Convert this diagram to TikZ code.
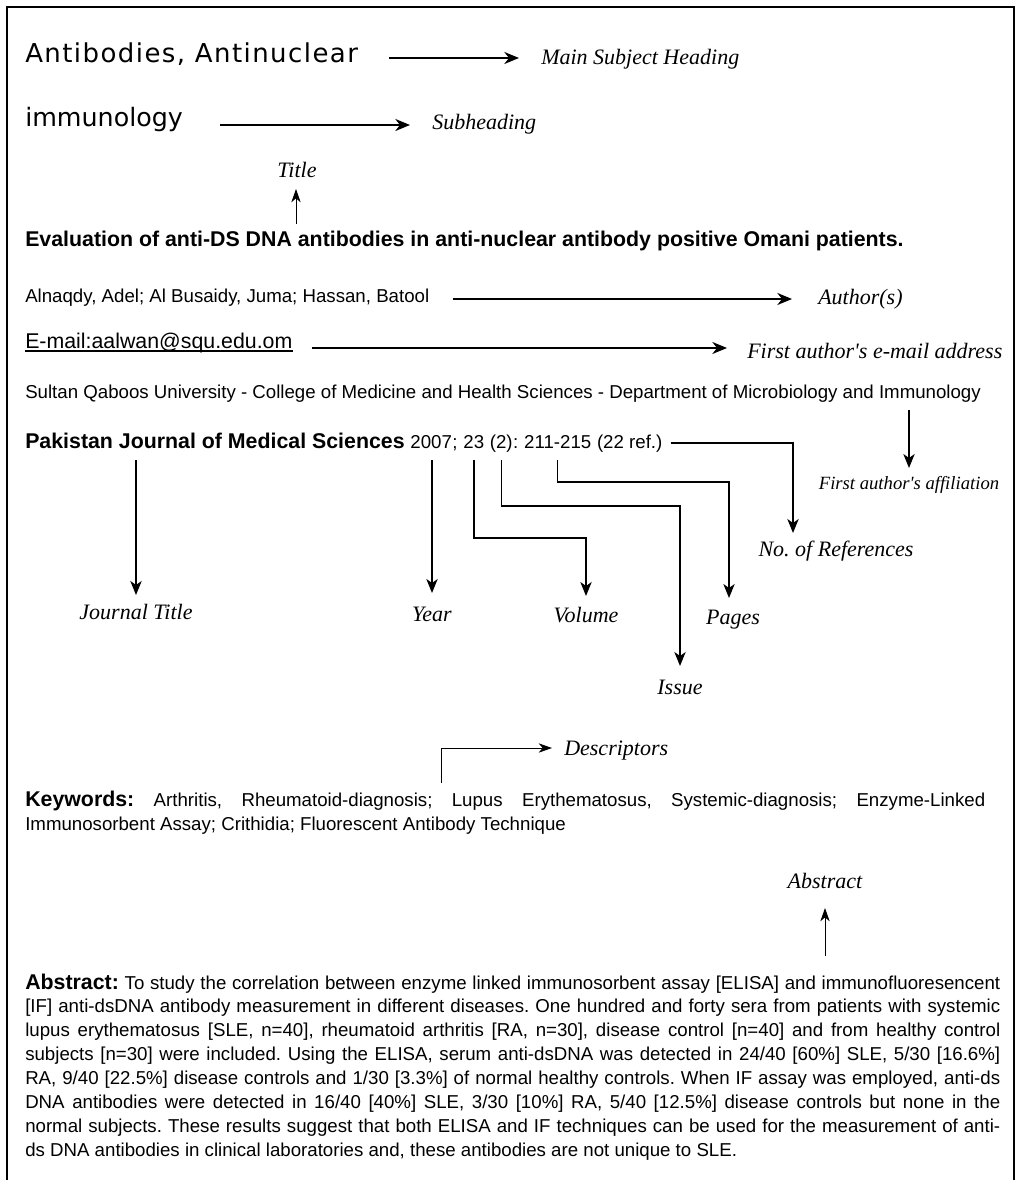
\documentclass[tikz,border=0pt]{standalone}
\usepackage{fontspec}
\setmainfont{Liberation Sans}
\newfontfamily\lblfont{Liberation Serif}
\newfontfamily\headfontA[LetterSpace=5.5]{DejaVu Sans}
\newfontfamily\headfontB{DejaVu Sans}
\usetikzlibrary{arrows.meta,calc}
\frenchspacing
\tikzset{
  lab/.style={font=\lblfont\itshape\fontsize{16.5}{19}\selectfont, anchor=base west, inner sep=0pt},
  labc/.style={lab, anchor=base},
  bodyt/.style={font=\fontsize{14}{17}\selectfont, anchor=base west, inner sep=0pt},
  boldt/.style={font=\bfseries\fontsize{16}{19}\selectfont, anchor=base west, inner sep=0pt},
  bigarr/.style={line width=1.5pt, -{Stealth[length=11pt,width=9pt,inset=3.5pt]}},
  conn/.style={line width=1.1pt, -{Stealth[length=10.5pt,width=8.5pt,inset=3pt]}},
  thinarr/.style={line width=0.75pt, -{Stealth[length=10pt,width=7pt,inset=3pt]}},
}
\begin{document}
\frenchspacing
\begin{tikzpicture}[x=0.75pt,y=-0.75pt]
\useasboundingbox (0,0) rectangle (1018,1180);
\draw[line width=1.1pt] (7,1182) -- (7,7) -- (1014,7) -- (1014,1182);

% headings
\node[anchor=base west, inner sep=0pt, font=\headfontA\fontsize{19.5}{23}\selectfont] (msh) at (25,63) {Antibodies, Antinuclear};
\node[lab] (mshL) at (541,65) {Main Subject Heading};
\draw[bigarr] ($(msh.base east)+(31,-5)$) coordinate (t1) -- ($(t1 -| mshL.base west)+(-22,0)$);

\node[anchor=base west, inner sep=0pt, font=\headfontB\fontsize{19}{23}\selectfont] (sub) at (25,127) {immunology};
\node[lab] (subL) at (432,130) {Subheading};
\draw[bigarr] ($(sub.base east)+(37,-2)$) coordinate (t2) -- ($(t2 -| subL.base west)+(-22,0)$);

% title
\node[labc] (ttlL) at (297,178) {Title};
\node[boldt] (ttl) at (25,247) {Evaluation of anti-DS DNA antibodies in anti-nuclear antibody positive Omani patients.};
\draw[thinarr] ($(ttlL.base |- ttl.base)+(-1,-23)$) -- ($(ttlL.base)+(-1,11)$);

% authors
\node[bodyt] (auth) at (25,303) {Alnaqdy, Adel; Al Busaidy, Juma; Hassan, Batool};
\node[lab] (authL) at (818,305) {Author(s)};
\draw[bigarr] ($(auth.base east)+(23,-4)$) coordinate (t3) -- ($(t3 -| authL.base west)+(-26,0)$);

% e-mail
\node[anchor=base west, inner sep=0pt, font=\fontsize{16}{19}\selectfont] (email) at (25,348) {E-mail:aalwan@squ.edu.om};
\draw[line width=1pt] ($(email.base west)+(0,3)$) -- ($(email.base east)+(0,3)$);
\node[lab] (emailL) at (747,358) {First author\textquotesingle s e-mail address};
\draw[bigarr] ($(email.base east)+(19,0)$) coordinate (t4) -- ($(t4 -| emailL.base west)+(-20,0)$);

% affiliation
\node[bodyt] (aff) at (25,398) {Sultan Qaboos University - College of Medicine and Health Sciences - Department of Microbiology and Immunology};
\node[labc, font=\lblfont\itshape\fontsize{14}{17}\selectfont] (affL) at (909,489) {First author\textquotesingle s affiliation};
\draw[conn] ($(affL.base |- aff.base)+(0,12)$) -- ($(affL.base)+(0,-21)$);

% journal line
\node[boldt] (jt) at (25,448) {Pakistan Journal of Medical Sciences};
\node[bodyt] (yr) at ($(jt.base east)+(5.2,0)$) {2007};
\node[bodyt] (sc1) at (yr.base east) {;};
\node[bodyt] (vol) at ($(sc1.base east)+(5.2,0)$) {23};
\node[bodyt] (iss) at ($(vol.base east)+(5.2,0)$) {(2)};
\node[bodyt] (cl) at (iss.base east) {:};
\node[bodyt] (pg) at ($(cl.base east)+(5.2,0)$) {211-215};
\node[bodyt] (ref) at ($(pg.base east)+(5.2,0)$) {(22 ref.)};

\node[labc] (jtL) at (136,619) {Journal Title};
\node[labc] (yrL) at (432,621) {Year};
\node[labc] (volL) at (586,622) {Volume};
\node[labc] (pgL) at (733,624) {Pages};
\node[labc] (issL) at (680,694) {Issue};
\node[labc] (refL) at (836,556) {No. of References};

\draw[conn] ($(jtL.base |- jt.base)+(0,12)$) -- ($(jtL.base)+(0,-24)$);
\draw[conn] ($(yrL.base |- yr.base)+(0,12)$) -- ($(yrL.base)+(0,-28)$);
\draw[conn] ($(vol.base)+(0,12)$) -- ($(vol.base)+(0,90)$) -| ($(volL.base)+(0,-26)$);
\draw[conn] ($(iss.base)+(0,12)$) -- ($(iss.base)+(0,58)$) -| ($(issL.base)+(0,-28)$);
\draw[conn] ($(pg.base)+(0,12)$) -- ($(pg.base)+(0,34)$) -| ($(pgL.base)+(-4,-26)$);
\draw[conn] ($(ref.base east)+(8,-5)$) -| ($(refL.base)+(-43,-23)$);

% descriptors / keywords
\node[lab] (descL) at (564,755) {Descriptors};
\draw[thinarr] ($(descL.base west)+(-123,28)$) |- ($(descL.base west)+(-12,-7)$);

\node[bodyt] (kw1) at (25,806) {\hbox to 720pt{\textbf{\fontsize{16}{19}\selectfont Keywords:} Arthritis, Rheumatoid-diagnosis; Lupus Erythematosus, Systemic-diagnosis; Enzyme-Linked}};
\node[bodyt] (kw2) at (25,830) {Immunosorbent Assay; Crithidia; Fluorescent Antibody Technique};

% abstract
\node[labc] (absL) at (825,888) {Abstract};
\node[bodyt] (ab1) at (25,989) {\hbox to 731.25pt{\textbf{\fontsize{16}{19}\selectfont Abstract:} To study the correlation between enzyme linked immunosorbent assay [ELISA] and immunofluoresencent}};
\node[bodyt] (ab2) at (25,1012.9) {\hbox to 731.25pt{[IF] anti-dsDNA antibody measurement in different diseases. One hundred and forty sera from patients with systemic}};
\node[bodyt] (ab3) at (25,1036.8) {\hbox to 731.25pt{lupus erythematosus [SLE, n=40], rheumatoid arthritis [RA, n=30], disease control [n=40] and from healthy control}};
\node[bodyt] (ab4) at (25,1060.7) {\hbox to 731.25pt{subjects [n=30] were included. Using the ELISA, serum anti-dsDNA was detected in 24/40 [60\%] SLE, 5/30 [16.6\%]}};
\node[bodyt] (ab5) at (25,1084.6) {\hbox to 731.25pt{RA, 9/40 [22.5\%] disease controls and 1/30 [3.3\%] of normal healthy controls. When IF assay was employed, anti-ds}};
\node[bodyt] (ab6) at (25,1108.5) {\hbox to 731.25pt{DNA antibodies were detected in 16/40 [40\%] SLE, 3/30 [10\%] RA, 5/40 [12.5\%] disease controls but none in the}};
\node[bodyt] (ab7) at (25,1132.4) {\hbox to 731.25pt{normal subjects. These results suggest that both ELISA and IF techniques can be used for the measurement of anti-}};
\node[bodyt] (ab8) at (25,1156.3) {ds DNA antibodies in clinical laboratories and, these antibodies are not unique to SLE.};
\draw[thinarr] ($(absL.base |- ab1.base)+(0,-33)$) -- ($(absL.base)+(0,20)$);
\end{tikzpicture}
\end{document}
